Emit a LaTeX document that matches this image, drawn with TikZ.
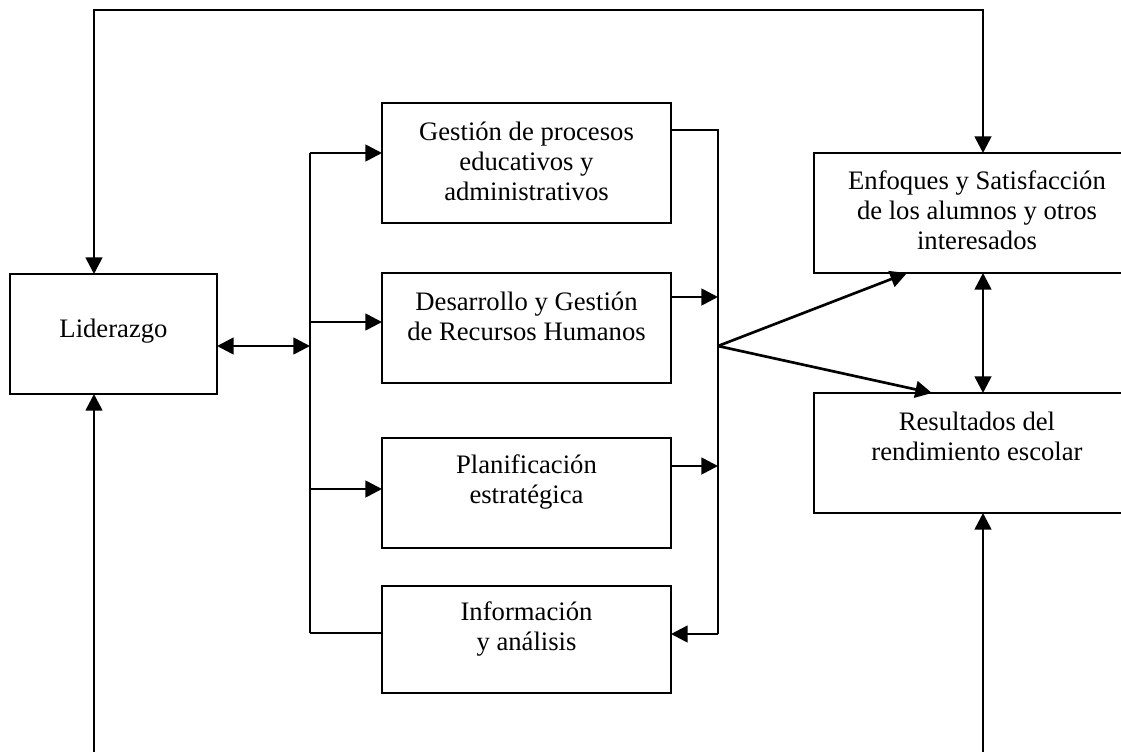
\documentclass[tikz,border=0pt]{standalone}
\usepackage{fontspec}
\setmainfont{Liberation Serif}
\usetikzlibrary{arrows.meta}

\tikzset{
  box/.style={draw, line width=1.4pt, inner sep=0pt, outer sep=0pt},
  txt/.style={align=center, anchor=base, inner sep=0pt,
    font=\fontsize{20}{22.5}\selectfont},
  bus/.style={line width=1.3pt},
  flow/.style={line width=2pt, -{Triangle[length=12.5pt,width=12.5pt]}},
  flow2/.style={line width=2pt, {Triangle[length=12.5pt,width=12.5pt]}-{Triangle[length=12.5pt,width=12.5pt]}},
}

\begin{document}
\begin{tikzpicture}[x=0.75pt,y=-0.75pt]
  \useasboundingbox (0,0) rectangle (1121,751);
  \clip (0,0) rectangle (1121,751);

  % boxes
  \node[box, minimum width=155.25pt, minimum height=90pt]  (lid) at (113.5,334)   {};
  \node[box, minimum width=216.75pt, minimum height=90pt]  (ges) at (526.5,163)   {};
  \node[box, minimum width=216.75pt, minimum height=82.5pt] (des) at (526.5,328)  {};
  \node[box, minimum width=216.75pt, minimum height=82.5pt] (pla) at (526.5,493)  {};
  \node[box, minimum width=216.75pt, minimum height=80.25pt] (inf) at (526.5,639.5) {};
  \node[box, minimum width=244.5pt, minimum height=90pt]   (enf) at (977,213)     {};
  \node[box, minimum width=244.5pt, minimum height=90pt]   (res) at (977,453)     {};

  % labels (placed by the baseline of their last line)
  \node[txt] (tlid) at (113.5,337) {Liderazgo};
  \node[txt] (tges) at (526.5,200) {Gestión de procesos\\educativos y\\administrativos};
  \node[txt] (tdes) at (526.5,340) {Desarrollo y Gestión\\de Recursos Humanos};
  \node[txt] (tpla) at (526.5,503) {Planificación\\estratégica};
  \node[txt] (tinf) at (526.5,650) {Información\\y análisis};
  \node[txt] (tenf) at (977,249)   {Enfoques y Satisfacción\\de los alumnos y otros\\interesados};
  \node[txt] (tres) at (977,460)   {Resultados del\\rendimiento escolar};

  % routing points
  \coordinate (tl) at (94,10);
  \coordinate (tr) at (983,10);
  \coordinate (bl) at (94,770);
  \coordinate (br) at (983,770);
  \coordinate (b1) at (310,153);
  \coordinate (bm) at (310,346);
  \coordinate (b2) at (310,322);
  \coordinate (b3) at (310,489);
  \coordinate (b4) at (310,633);
  \coordinate (r1) at (718,130);
  \coordinate (r2) at (718,297);
  \coordinate (r3) at (718,466);
  \coordinate (rf) at (718,346);
  \coordinate (r4) at (718,634);

  % outer feedback loop
  \draw[flow2] (lid.north -| tl) -- (tl) -- (tr) -- (enf.north -| tr);
  \draw[flow] (bl) -- (bl |- lid.south);
  \draw[flow] (br) -- (br |- res.south);

  % left distribution bus
  \draw[bus] (b1) -- (b4);
  \draw[flow2] (bm -| lid.east) -- (bm);
  \draw[flow] (b1) -- (b1 -| ges.west);
  \draw[flow] (b2) -- (b2 -| des.west);
  \draw[flow] (b3) -- (b3 -| pla.west);
  \draw[bus] (b4) -- (b4 -| inf.west);

  % right collection bus
  \draw[bus] (r1 -| ges.east) -- (r1) -- (r4);
  \draw[flow] (r2 -| des.east) -- (r2);
  \draw[flow] (r3 -| pla.east) -- (r3);
  \draw[flow] (r4) -- (r4 -| inf.east);

  % results
  \draw[flow] (rf) -- ([xshift=69.75pt]enf.south west);
  \draw[flow] (rf) -- ([xshift=88.5pt]res.north west);
  \draw[flow2] (enf.south -| tr) -- (res.north -| tr);
\end{tikzpicture}
\end{document}
